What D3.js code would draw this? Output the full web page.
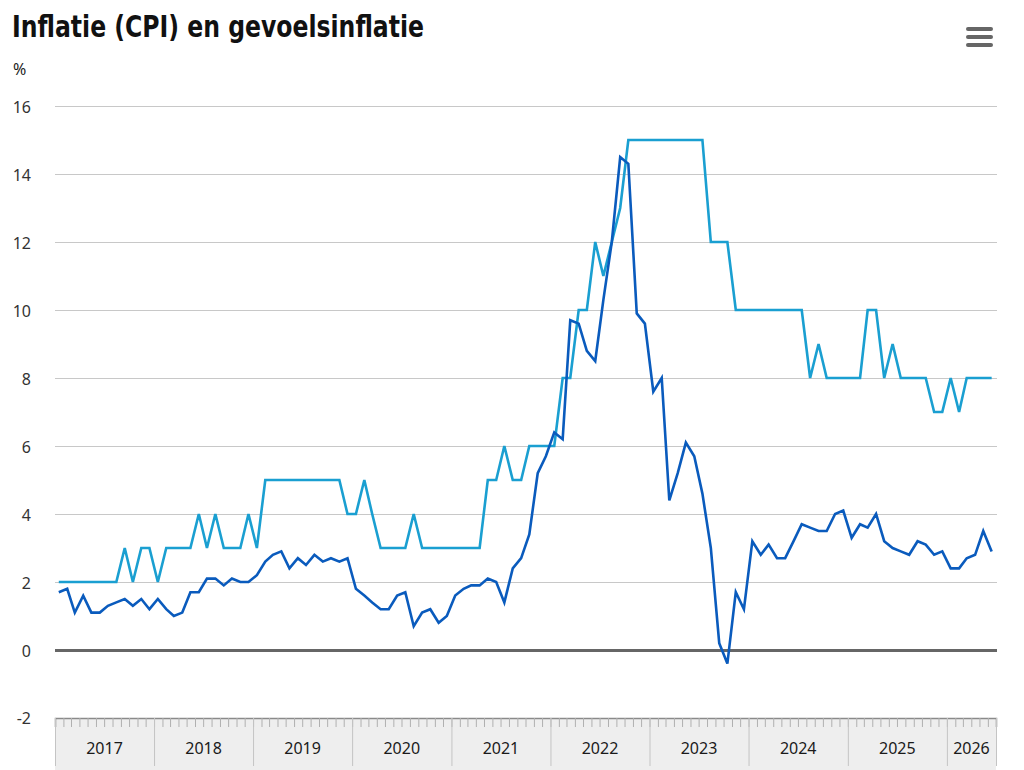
<!DOCTYPE html>
<html>
<head>
<meta charset="utf-8">
<script src="https://cdn.jsdelivr.net/npm/d3@7"></script>
<style>
    html, body { margin: 0; padding: 0; background: #fff; }
    svg { display: block; }
</style>
</head>
<body>
<svg id="chart"></svg>
<script>
const TITLE = 'Inflatie (CPI) en gevoelsinflatie';
const UNIT = '%';

const START_YEAR = 2017;
const YEAR_LABELS = ['2017', '2018', '2019', '2020', '2021', '2022', '2023', '2024', '2025', '2026'];
const Y_TICKS = [-2, 0, 2, 4, 6, 8, 10, 12, 14, 16];

// Monthly CPI, Jan 2017 .. Jun 2026
const CPI = [
    1.7, 1.8, 1.1, 1.6, 1.1, 1.1, 1.3, 1.4, 1.5, 1.3, 1.5, 1.2,
    1.5, 1.2, 1.0, 1.1, 1.7, 1.7, 2.1, 2.1, 1.9, 2.1, 2.0, 2.0,
    2.2, 2.6, 2.8, 2.9, 2.4, 2.7, 2.5, 2.8, 2.6, 2.7, 2.6, 2.7,
    1.8, 1.6, 1.4, 1.2, 1.2, 1.6, 1.7, 0.7, 1.1, 1.2, 0.8, 1.0,
    1.6, 1.8, 1.9, 1.9, 2.1, 2.0, 1.4, 2.4, 2.7, 3.4, 5.2, 5.7,
    6.4, 6.2, 9.7, 9.6, 8.8, 8.5, 10.3, 12.0, 14.5, 14.3, 9.9, 9.6,
    7.6, 8.0, 4.4, 5.2, 6.1, 5.7, 4.6, 3.0, 0.2, -0.4, 1.7, 1.2,
    3.2, 2.8, 3.1, 2.7, 2.7, 3.2, 3.7, 3.6, 3.5, 3.5, 4.0, 4.1,
    3.3, 3.7, 3.6, 4.0, 3.2, 3.0, 2.9, 2.8, 3.2, 3.1, 2.8, 2.9,
    2.4, 2.4, 2.7, 2.8, 3.5, 2.9
];

// Monthly gevoelsinflatie, same months
const GEVOEL = [
    2, 2, 2, 2, 2, 2, 2, 2, 3, 2, 3, 3,
    2, 3, 3, 3, 3, 4, 3, 4, 3, 3, 3, 4,
    3, 5, 5, 5, 5, 5, 5, 5, 5, 5, 5, 4,
    4, 5, 4, 3, 3, 3, 3, 4, 3, 3, 3, 3,
    3, 3, 3, 3, 5, 5, 6, 5, 5, 6, 6, 6,
    6, 8, 8, 10, 10, 12, 11, 12, 13, 15, 15, 15,
    15, 15, 15, 15, 15, 15, 15, 12, 12, 12, 10, 10,
    10, 10, 10, 10, 10, 10, 10, 8, 9, 8, 8, 8,
    8, 8, 10, 10, 8, 9, 8, 8, 8, 8, 7, 7,
    8, 7, 8, 8, 8, 8
];

const WIDTH = 1024;
const HEIGHT = 770;
const PLOT = { left: 55, right: 996, top: 106, bottom: 718 };
const BAND_BOTTOM = 770;

const COLOR_CPI = '#0a5bbd';
const COLOR_GEVOEL = '#1a9fd1';
const FONT = '"Noto Sans", "DejaVu Sans", sans-serif';

// plain hyphen for negatives, like the original
const fmt = (v) => String(v);

function monthDate(i)
{
    // middle of month i after Jan START_YEAR
    return new Date(START_YEAR, i, 15);
}

function buildSeries(values)
{
    return values.map((v, i) => [monthDate(i), v]);
}

function drawTitle(svg)
{
    svg.append('text')
        .attr('x', 12)
        .attr('y', 37)
        .attr('font-family', '"Liberation Sans Narrow", "DejaVu Sans Condensed", sans-serif')
        .attr('font-weight', 'bold')
        .attr('font-size', 31)
        .attr('fill', '#111')
        .attr('textLength', 412)
        .attr('lengthAdjust', 'spacingAndGlyphs')
        .text(TITLE);

    svg.append('text')
        .attr('x', 13)
        .attr('y', 75)
        .attr('font-family', FONT)
        .attr('font-size', 16)
        .attr('fill', '#222')
        .text(UNIT);

    // menu icon
    const icon = svg.append('g').attr('transform', 'translate(966,0)');
    [29, 37, 45].forEach((yy) =>
    {
        icon.append('rect')
            .attr('x', 0)
            .attr('y', yy - 2)
            .attr('width', 27)
            .attr('height', 4)
            .attr('rx', 2)
            .attr('fill', '#666');
    });
}

function drawYAxis(svg, yScale)
{
    const g = svg.append('g')
        .attr('transform', `translate(${ PLOT.left },0)`)
        .call(d3.axisLeft(yScale)
            .tickValues(Y_TICKS.filter(t => t > Y_TICKS[0]))
            .tickSize(-(PLOT.right - PLOT.left + 1))
            .tickPadding(24)
            .tickFormat(fmt));

    g.select('.domain').remove();
    g.selectAll('.tick line')
        .attr('stroke', '#c8c8c8')
        .attr('stroke-width', 1);
    g.selectAll('.tick text')
        .attr('font-family', FONT)
        .attr('font-size', 16)
        .attr('fill', '#333')
        .attr('dy', '0.4em');

    // zero line
    g.selectAll('.tick')
        .filter(d => d === 0)
        .select('line')
        .attr('stroke', '#666')
        .attr('stroke-width', 3);

    // label for bottom value, sits on the band edge
    svg.append('text')
        .attr('x', PLOT.left - 24)
        .attr('y', yScale(Y_TICKS[0]))
        .attr('dy', '0.4em')
        .attr('text-anchor', 'end')
        .attr('font-family', FONT)
        .attr('font-size', 16)
        .attr('fill', '#333')
        .text(fmt(Y_TICKS[0]));
}

function drawXAxis(svg, xScale)
{
    const band = svg.append('g');
    const [d0, d1] = xScale.domain();

    band.append('rect')
        .attr('x', PLOT.left)
        .attr('y', PLOT.bottom)
        .attr('width', PLOT.right - PLOT.left)
        .attr('height', BAND_BOTTOM - PLOT.bottom)
        .attr('fill', '#eeeeee');

    // month ticks
    const months = svg.append('g')
        .attr('transform', `translate(0,${ PLOT.bottom })`)
        .call(d3.axisBottom(xScale)
            .ticks(d3.timeMonth.every(1))
            .tickSize(9)
            .tickFormat(''));
    months.select('.domain').attr('stroke', '#8a8a8a').attr('stroke-width', 1.5);
    months.selectAll('.tick line').attr('stroke', '#b0b0b0');

    // year separators
    const years = svg.append('g')
        .attr('transform', `translate(0,${ PLOT.bottom })`)
        .call(d3.axisBottom(xScale)
            .tickValues(d3.timeYear.range(d0, d1).concat([d1]))
            .tickSize(48)
            .tickFormat(''));
    years.select('.domain').remove();
    years.selectAll('.tick line').attr('stroke', '#c4c4c4');

    // year labels centred in each year
    svg.append('g')
        .selectAll('text')
        .data(YEAR_LABELS)
        .join('text')
        .attr('x', (d) =>
        {
            const a = new Date(+d, 0, 1);
            const b = d3.min([new Date(+d + 1, 0, 1), d1]);
            return (xScale(a) + xScale(b)) / 2;
        })
        .attr('y', 754)
        .attr('text-anchor', 'middle')
        .attr('font-family', FONT)
        .attr('font-size', 16)
        .attr('fill', '#1a1a1a')
        .text(d => d);
}

function drawLine(svg, data, xScale, yScale, color)
{
    const line = d3.line()
        .x(d => xScale(d[0]))
        .y(d => yScale(d[1]));

    svg.append('path')
        .datum(data)
        .attr('fill', 'none')
        .attr('stroke', color)
        .attr('stroke-width', 2.6)
        .attr('stroke-linejoin', 'miter')
        .attr('d', line);
}

const svg = d3.select('#chart')
    .attr('width', WIDTH)
    .attr('height', HEIGHT);

const xScale = d3.scaleTime()
    .domain([new Date(START_YEAR, 0, 1), new Date(START_YEAR, CPI.length, 1)])
    .range([PLOT.left, PLOT.right]);

const yScale = d3.scaleLinear()
    .domain([Y_TICKS[0], Y_TICKS[Y_TICKS.length - 1]])
    .range([PLOT.bottom, PLOT.top]);

drawTitle(svg);
drawYAxis(svg, yScale);
drawXAxis(svg, xScale);
drawLine(svg, buildSeries(GEVOEL), xScale, yScale, COLOR_GEVOEL);
drawLine(svg, buildSeries(CPI), xScale, yScale, COLOR_CPI);
</script>
</body>
</html>
